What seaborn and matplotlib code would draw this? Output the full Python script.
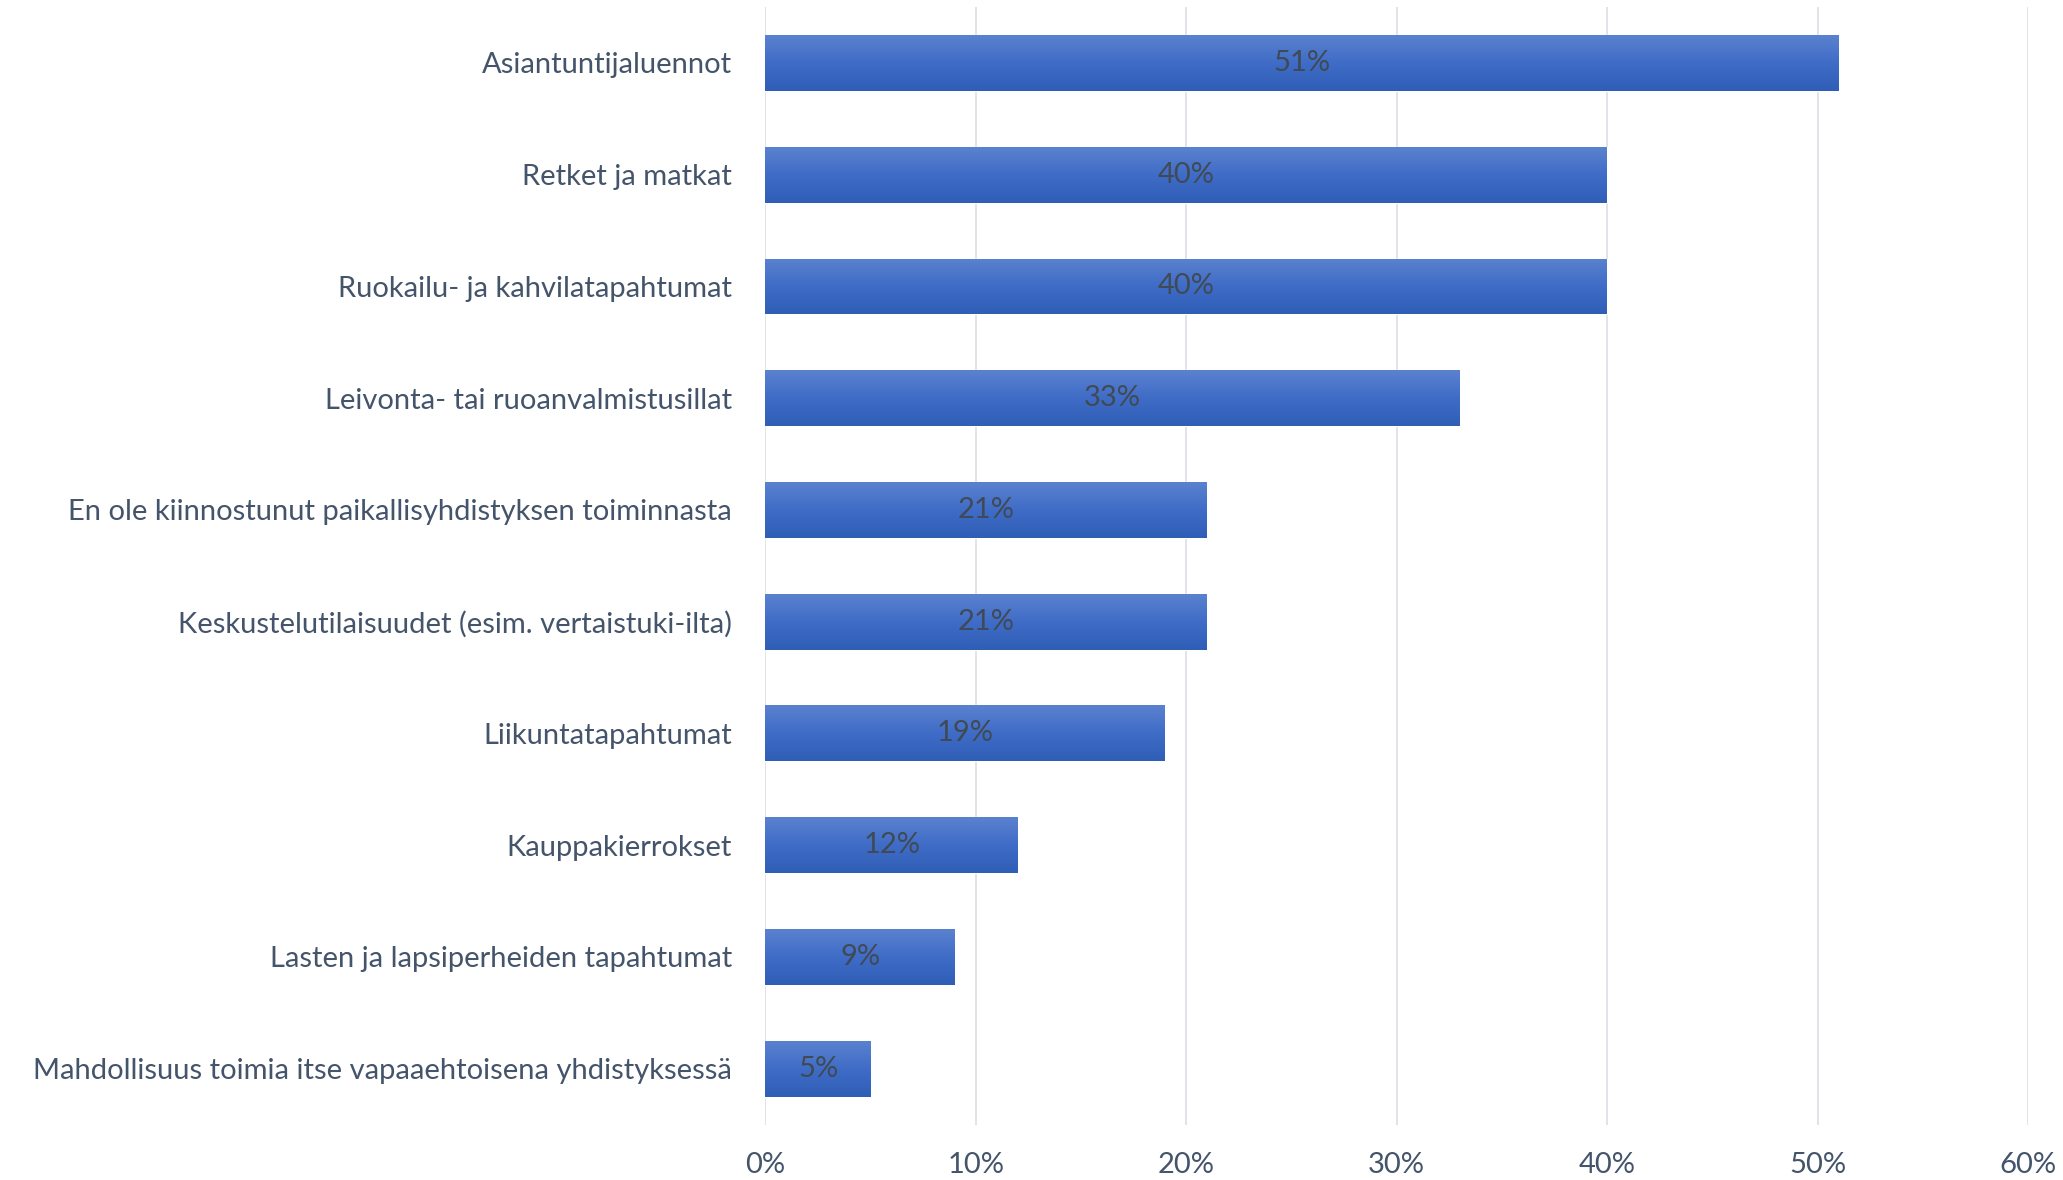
#recreate horizontal bar chart of activity interests

import numpy as np
import pandas as pd
import matplotlib
matplotlib.use('Agg')
import matplotlib.pyplot as plt
import seaborn as sns

categories = ['Asiantuntijaluennot',
              'Retket ja matkat',
              'Ruokailu- ja kahvilatapahtumat',
              'Leivonta- tai ruoanvalmistusillat',
              'En ole kiinnostunut paikallisyhdistyksen toiminnasta',
              'Keskustelutilaisuudet (esim. vertaistuki-ilta)',
              'Liikuntatapahtumat',
              'Kauppakierrokset',
              'Lasten ja lapsiperheiden tapahtumat',
              'Mahdollisuus toimia itse vapaaehtoisena yhdistyksessä']
values = [51, 40, 40, 33, 21, 21, 19, 12, 9, 5]
xticks = [0, 10, 20, 30, 40, 50, 60]

def main():
    sns.set_style('white')
    plt.rcParams['font.family'] = ['Lato', 'DejaVu Sans']
    df = pd.DataFrame({'category': categories, 'value': values})

    fig = plt.figure(figsize=(20.63, 11.8), dpi=100)
    ax = fig.add_axes([0.371, 0.047, 0.612, 0.947])
    sns.barplot(data=df, x='value', y='category', color='#4472C4', width=0.5,
                saturation=1, ax=ax, zorder=3)

    # vertical gradient on each bar
    grad = np.linspace(0, 1, 256).reshape(-1, 1)
    cmap = matplotlib.colors.LinearSegmentedColormap.from_list('bar', ['#5B82D0', '#3F6CC6', '#2F5EB7'])
    for p in ax.patches:
        x0, y0 = p.get_x(), p.get_y()
        w, h = p.get_width(), p.get_height()
        im = ax.imshow(grad, cmap=cmap, aspect='auto', extent=[x0, x0 + w, y0 + h, y0],
                       zorder=4, interpolation='bilinear')
        im.set_clip_path(p)
        ax.text(x0 + w / 2, y0 + h / 2, f'{int(round(w))}%', ha='center', va='center',
                fontsize=21, color='#404a55', zorder=5)

    ax.set_xlim(0, 60)
    ax.set_ylim(9.5, -0.5)
    ax.set_xticks(xticks)
    ax.set_xticklabels([f'{t}%' for t in xticks])
    ax.xaxis.grid(True, color='#dde0e6', linewidth=1.3, zorder=0)
    ax.set_axisbelow(True)
    sns.despine(ax=ax, left=True, bottom=True, top=True, right=True)
    ax.set_xlabel('')
    ax.set_ylabel('')
    ax.tick_params(axis='y', length=0, pad=24, labelsize=21, labelcolor='#44546A')
    ax.tick_params(axis='x', length=0, pad=20, labelsize=21, labelcolor='#44546A')

    fig.savefig('out.png', dpi=100)
    plt.close(fig)


if __name__ == '__main__':
    main()
